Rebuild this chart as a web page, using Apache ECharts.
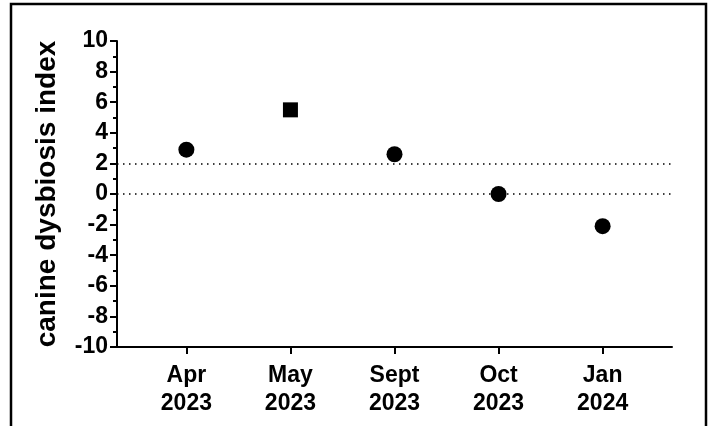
<!DOCTYPE html>
<html>
<head>
<meta charset="utf-8">
<script src="https://cdn.jsdelivr.net/npm/echarts@6/dist/echarts.min.js"></script>
<style>
  html, body { margin: 0; padding: 0; background: #fff; }
  #chart { width: 710px; height: 426px; }
</style>
</head>
<body>
<div id="chart"></div>
<script>
const categories = ['Apr\n2023', 'May\n2023', 'Sept\n2023', 'Oct\n2023', 'Jan\n2024'];
const values = [2.9, 5.5, 2.6, 0, -2.1];
const markers = ['circle', 'rect', 'circle', 'circle', 'circle'];
const yTicks = [-10, -8, -6, -4, -2, 0, 2, 4, 6, 8, 10];
const refLines = [2, 0];

const font = '"Liberation Sans", Arial, sans-serif';
const chart = echarts.init(document.getElementById('chart'));

chart.setOption({
  animation: false,
  backgroundColor: '#fff',
  grid: { left: 117, right: 38, top: 41, bottom: 79 },
  graphic: [
    {
      type: 'rect',
      shape: { x: 11, y: 4, width: 695, height: 460 },
      style: { fill: 'none', stroke: '#000', lineWidth: 2.5 },
      silent: true
    }
  ],
  xAxis: {
    type: 'value',
    min: -2 / 3,
    max: categories.length - 1 + 2 / 3,
    splitLine: { show: false },
    axisLine: { show: true, onZero: false, lineStyle: { color: '#000', width: 2 } },
    axisTick: {
      show: true,
      customValues: categories.map((c, i) => i),
      length: 7,
      lineStyle: { color: '#000', width: 2 }
    },
    axisLabel: {
      customValues: categories.map((c, i) => i),
      formatter: (v) => categories[Math.round(v)] ?? '',
      color: '#000',
      fontFamily: font,
      fontWeight: 'bold',
      fontSize: 23,
      lineHeight: 28,
      margin: 15
    }
  },
  yAxis: {
    type: 'value',
    min: yTicks[0],
    max: yTicks[yTicks.length - 1],
    interval: 2,
    name: 'canine dysbiosis index',
    nameLocation: 'middle',
    nameGap: 56,
    nameTextStyle: { color: '#000', fontFamily: font, fontWeight: 'bold', fontSize: 28 },
    splitLine: { show: false },
    axisLine: { show: true, onZero: false, lineStyle: { color: '#000', width: 2 } },
    axisTick: { show: true, length: 7, lineStyle: { color: '#000', width: 2 } },
    minorTick: { show: true, splitNumber: 2, length: 4, lineStyle: { color: '#000', width: 2 } },
    axisLabel: {
      color: '#000',
      fontFamily: font,
      fontWeight: 'bold',
      fontSize: 23,
      margin: 9
    }
  },
  series: [
    {
      type: 'scatter',
      data: values.map((v, i) => ({
        value: [i, v],
        symbol: markers[i],
        symbolSize: markers[i] === 'rect' ? 15 : 16
      })),
      itemStyle: { color: '#000', opacity: 1 },
      z: 5,
      markLine: {
        silent: true,
        symbol: 'none',
        label: { show: false },
        lineStyle: { color: '#000', width: 1.5, type: [1.5, 4.5], opacity: 1 },
        data: refLines.map((y) => ({ yAxis: y }))
      }
    }
  ]
});
</script>
</body>
</html>
